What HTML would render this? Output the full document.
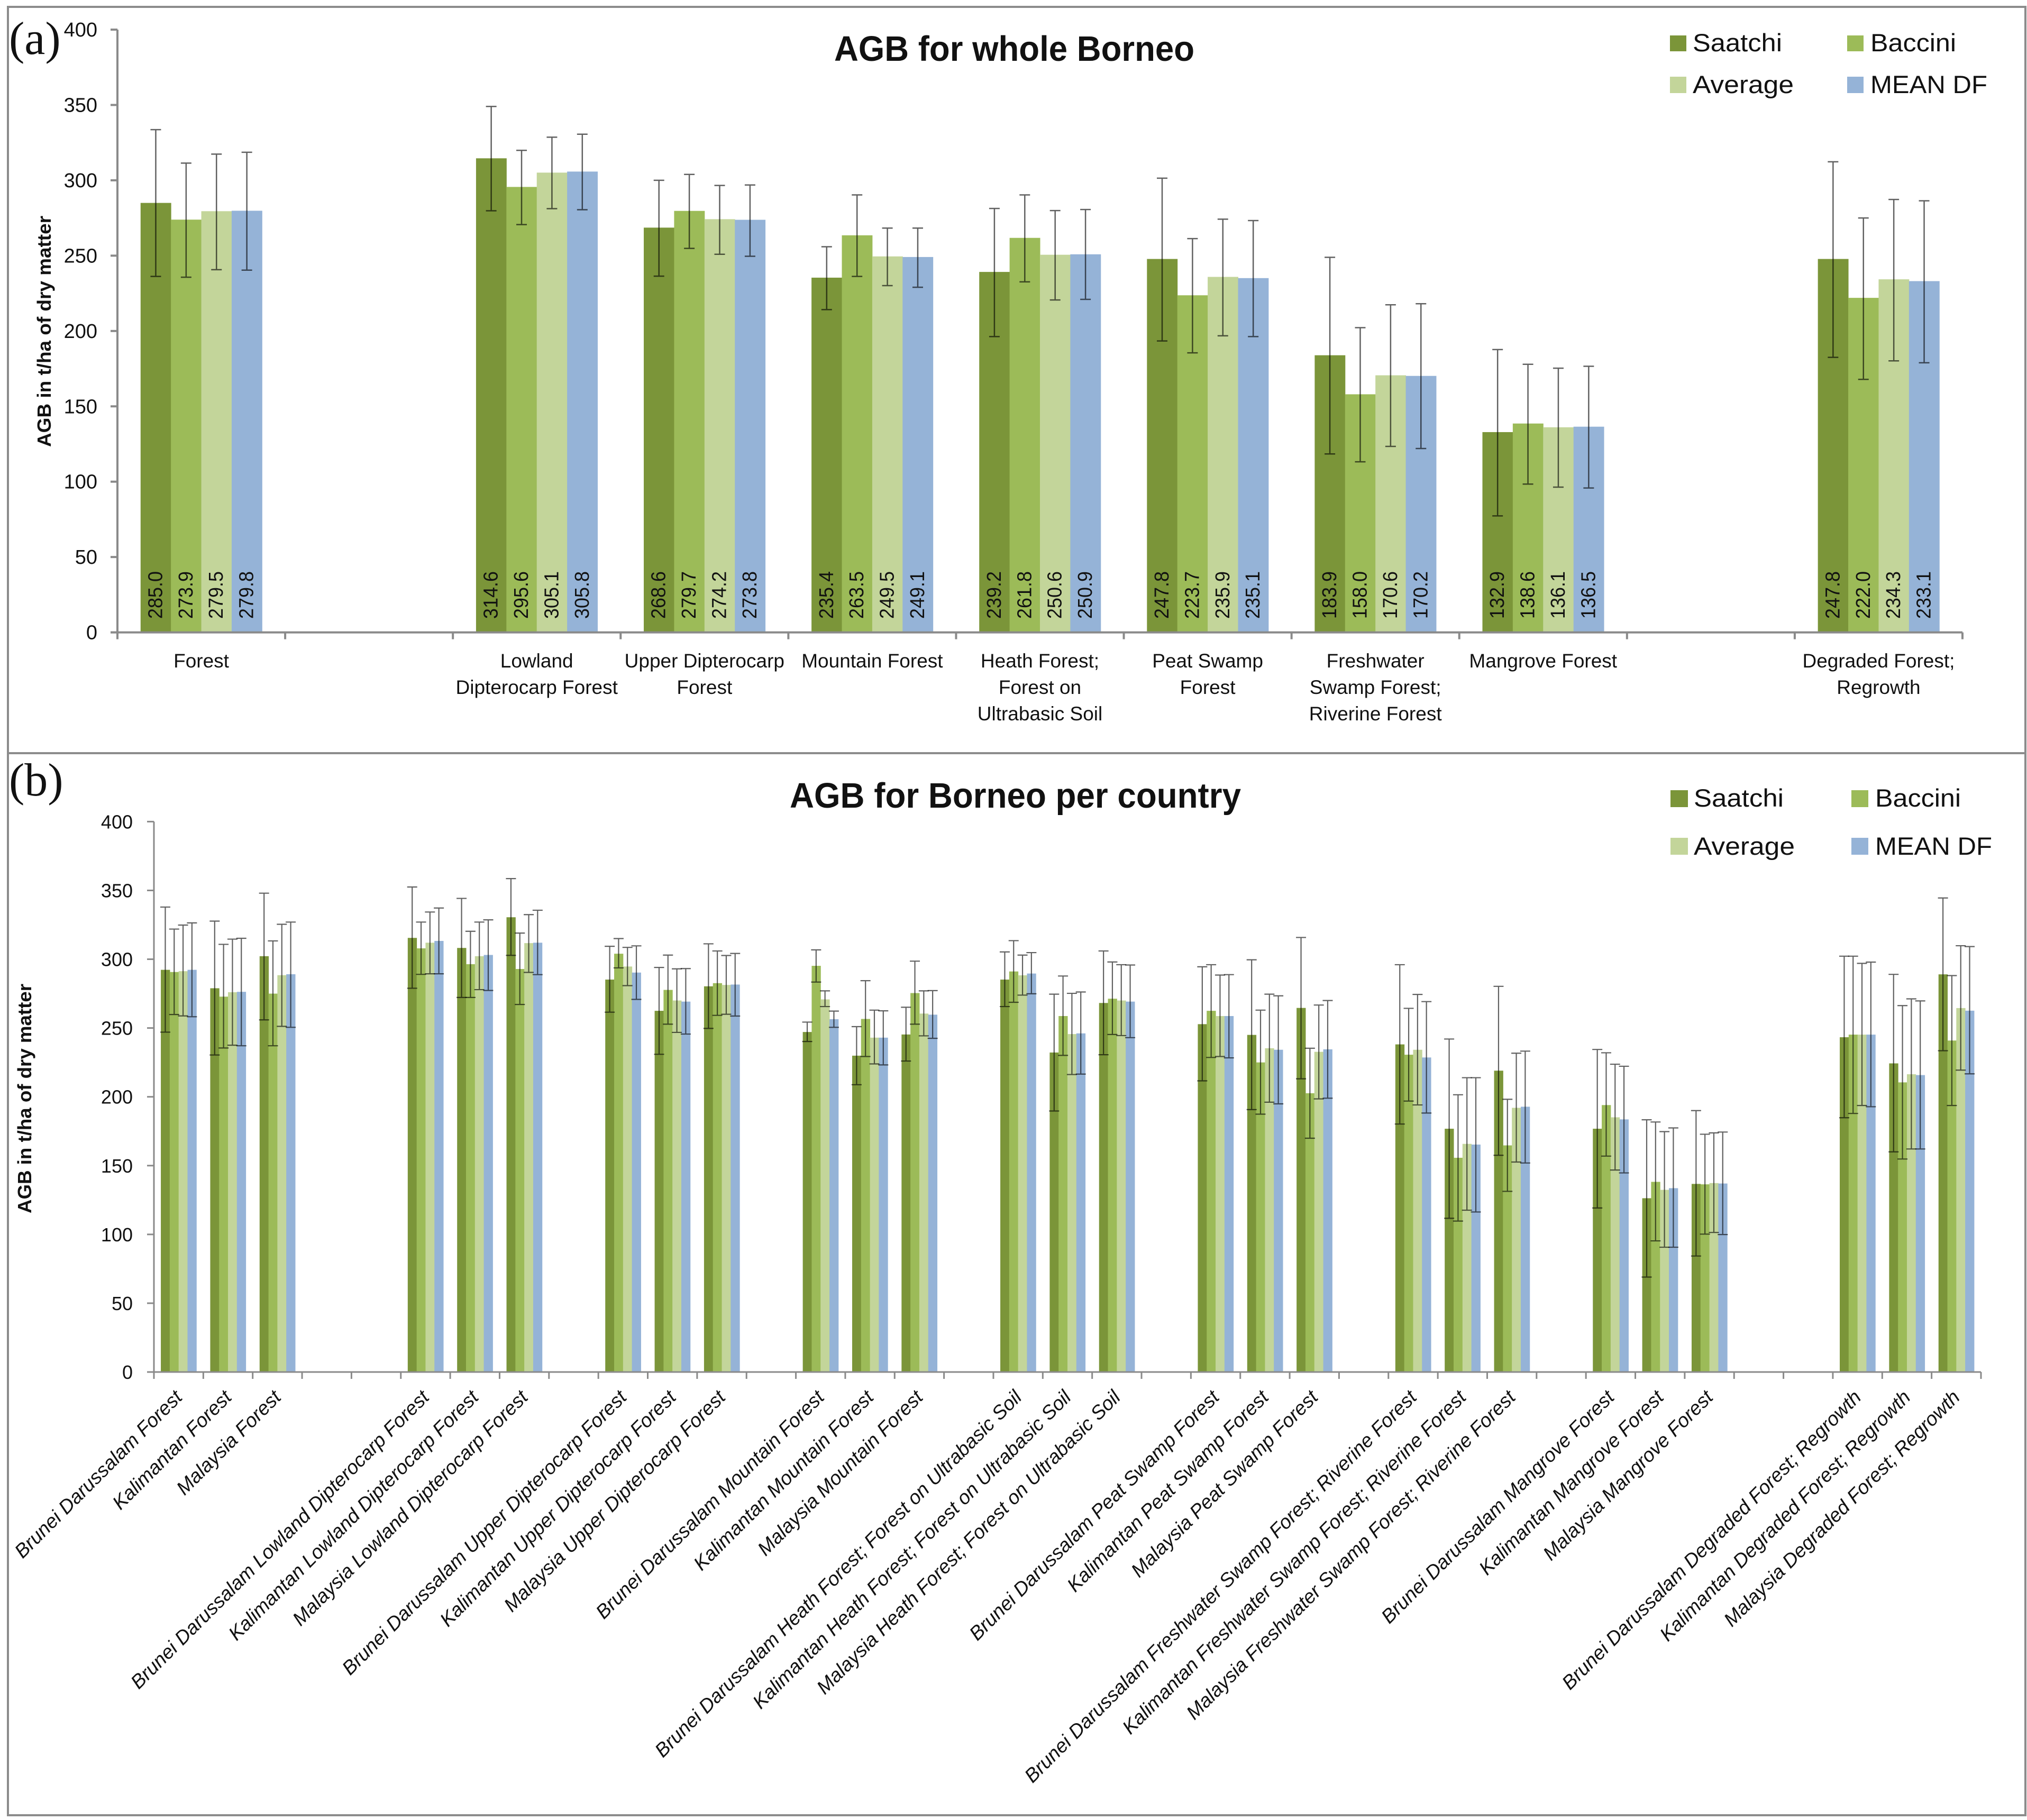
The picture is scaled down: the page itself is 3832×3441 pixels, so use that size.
<!DOCTYPE html>
<html lang="en">
<head>
<meta charset="utf-8">
<title>AGB for Borneo</title>
<style>
html,body{margin:0;padding:0;background:#fff;}
svg{display:block;}
text{font-family:"Liberation Sans",sans-serif;fill:#111;}
.serif{font-family:"Liberation Serif",serif;}
</style>
</head>
<body>
<svg id="root" xmlns="http://www.w3.org/2000/svg" width="3832" height="3441" viewBox="0 0 3832 3441">
  <rect x="0" y="0" width="3832" height="3441" fill="#fff"/>
  <rect x="15" y="13" width="3814" height="1411" fill="none" stroke="#8c8c8c" stroke-width="4"/>
  <rect x="15" y="1424" width="3814" height="2008" fill="none" stroke="#8c8c8c" stroke-width="4"/>

  <text class="serif" x="17" y="102" font-size="88">(a)</text>
  <text class="serif" x="17" y="1504" font-size="88">(b)</text>

  <text x="1577" y="115" font-size="67" font-weight="700" textLength="681" lengthAdjust="spacingAndGlyphs">AGB for whole Borneo</text>
  <text x="1493" y="1527" font-size="67" font-weight="700" textLength="853" lengthAdjust="spacingAndGlyphs">AGB for Borneo per country</text>

  <text transform="translate(96,845) rotate(-90)" font-size="36" font-weight="700" textLength="437" lengthAdjust="spacingAndGlyphs">AGB in t/ha of dry matter</text>
  <text transform="translate(59,2294) rotate(-90)" font-size="36" font-weight="700" textLength="434" lengthAdjust="spacingAndGlyphs">AGB in t/ha of dry matter</text>

  <g>
    <rect x="3157" y="67" width="31" height="30" fill="#7b9539"/>
    <text x="3200" y="97" font-size="47" textLength="169" lengthAdjust="spacingAndGlyphs">Saatchi</text>
    <rect x="3492" y="67" width="31" height="30" fill="#9cbb58"/>
    <text x="3536" y="97" font-size="47" textLength="162" lengthAdjust="spacingAndGlyphs">Baccini</text>
    <rect x="3157" y="145" width="31" height="31" fill="#c3d59a"/>
    <text x="3200" y="176" font-size="47" textLength="191" lengthAdjust="spacingAndGlyphs">Average</text>
    <rect x="3492" y="145" width="31" height="31" fill="#95b3d7"/>
    <text x="3536" y="176" font-size="47" textLength="221" lengthAdjust="spacingAndGlyphs">MEAN DF</text>
  </g>
  <g>
    <rect x="3158" y="1494" width="33" height="32" fill="#7b9539"/>
    <text x="3202" y="1525" font-size="47" textLength="170" lengthAdjust="spacingAndGlyphs">Saatchi</text>
    <rect x="3500" y="1494" width="32" height="32" fill="#9cbb58"/>
    <text x="3545" y="1525" font-size="47" textLength="162" lengthAdjust="spacingAndGlyphs">Baccini</text>
    <rect x="3158" y="1584" width="33" height="32" fill="#c3d59a"/>
    <text x="3202" y="1616" font-size="47" textLength="191" lengthAdjust="spacingAndGlyphs">Average</text>
    <rect x="3500" y="1584" width="32" height="32" fill="#95b3d7"/>
    <text x="3545" y="1616" font-size="47" textLength="221" lengthAdjust="spacingAndGlyphs">MEAN DF</text>
  </g>

  <g id="chart-a"></g>
  <g id="chart-b"></g>
</svg>

<script>
// Shared y ticks
const yTicks = [0, 50, 100, 150, 200, 250, 300, 350, 400];

// ---------- Chart A data ----------
const aCategories = ["Forest", null, "Lowland|Dipterocarp Forest", "Upper Dipterocarp|Forest", "Mountain Forest", "Heath Forest;|Forest on|Ultrabasic Soil", "Peat Swamp|Forest", "Freshwater|Swamp Forest;|Riverine Forest", "Mangrove Forest", null, "Degraded Forest;|Regrowth"];
const aSaatchi = [285.0, 314.6, 268.6, 235.4, 239.2, 247.8, 183.9, 132.9, 247.8];
const aBaccini = [273.9, 295.6, 279.7, 263.5, 261.8, 223.7, 158.0, 138.6, 222.0];
const aAverage = [279.5, 305.1, 274.2, 249.5, 250.6, 235.9, 170.6, 136.1, 234.3];
const aMeanDF = [279.8, 305.8, 273.8, 249.1, 250.9, 235.1, 170.2, 136.5, 233.1];
const aSaatchiUpper = [333.6, 349, 300, 255.9, 281.3, 301.4, 248.9, 187.7, 312.3];
const aBacciniUpper = [311.4, 319.9, 303.9, 290.3, 290.3, 261.3, 202.2, 177.9, 275];
const aAverageUpper = [317.4, 328.6, 296.6, 268.3, 279.9, 274.2, 217.4, 175.3, 287.3];
const aMeanDFUpper = [318.6, 330.6, 296.9, 268.3, 280.6, 273.3, 218.1, 176.6, 286.4];
const aSaatchiLower = [236.2, 279.8, 236.4, 214.2, 196.3, 193.4, 118.4, 77.3, 182.5];
const aBacciniLower = [235.7, 270.6, 254.8, 236.2, 232.6, 185.5, 113.2, 98.4, 167.9];
const aAverageLower = [240.7, 281.2, 250.9, 230.1, 220.6, 196.8, 123.4, 96.4, 180.2];
const aMeanDFLower = [240.4, 280.5, 249.6, 229, 221, 196.3, 122, 95.8, 178.9];

// ---------- Chart B data ----------
const bCategories = [
  "Brunei Darussalam Forest", "Kalimantan Forest", "Malaysia Forest", null, null,
  "Brunei Darussalam Lowland Dipterocarp Forest", "Kalimantan Lowland Dipterocarp Forest", "Malaysia Lowland Dipterocarp Forest", null,
  "Brunei Darussalam Upper Dipterocarp Forest", "Kalimantan Upper Dipterocarp Forest", "Malaysia Upper Dipterocarp Forest", null,
  "Brunei Darussalam Mountain Forest", "Kalimantan Mountain Forest", "Malaysia Mountain Forest", null,
  "Brunei Darussalam Heath Forest; Forest on Ultrabasic Soil", "Kalimantan Heath Forest; Forest on Ultrabasic Soil", "Malaysia Heath Forest; Forest on Ultrabasic Soil", null,
  "Brunei Darussalam Peat Swamp Forest", "Kalimantan Peat Swamp Forest", "Malaysia Peat Swamp Forest", null,
  "Brunei Darussalam Freshwater Swamp Forest; Riverine Forest", "Kalimantan Freshwater Swamp Forest; Riverine Forest", "Malaysia Freshwater Swamp Forest; Riverine Forest", null,
  "Brunei Darussalam Mangrove Forest", "Kalimantan Mangrove Forest", "Malaysia Mangrove Forest", null, null,
  "Brunei Darussalam Degraded Forest; Regrowth", "Kalimantan Degraded Forest; Regrowth", "Malaysia Degraded Forest; Regrowth"
];
const bSaatchi = [292.3,278.9,302.2,315.5,308.2,330.5,285.2,262.5,280.3,247.1,229.9,245.3,285.2,232.2,268.2,252.8,245,264.6,238.1,176.8,219,176.8,126.3,136.7,243.3,224.3,289];
const bBaccini = [290.7,272.8,275,307.9,296.4,292.9,304,277.7,282.6,295.2,256.6,275.4,291.1,258.7,271.3,262.5,225,202.6,230.6,155.7,164.7,194,138.2,136.4,245.2,210.5,240.9];
const bAverage = [291.3,276,288.4,312,302.2,311.7,294.7,270,281.3,270.8,243,260.5,288.3,245.6,270,258.7,235.3,232.7,234.2,165.8,192,185.1,132.4,137.3,245.2,216.4,264.5];
const bMeanDF = [292.3,276.3,289.1,313.3,303.1,312,290.3,269.2,281.6,256.4,243,259.7,289.6,246.1,269.2,258.7,234.2,234.5,228.6,165.3,192.8,183.6,133.6,137,245.2,215.8,262.6];
const bSaatchiUpper = [337.9,327.7,348,352.5,344.2,358.6,309.4,294,311.2,254.3,251,265.1,305.3,274.6,306,294.5,299.6,315.8,296,242,280.3,234.4,183.3,190,302.2,289,344.5];
const bBacciniUpper = [321.9,310.8,313.3,327,320.3,319,315,303,306,306.8,284.4,298.6,313.5,287.8,298,296,263,235.3,264.3,201.5,198.2,232,181.7,172.8,302.2,266.3,288.1];
const bAverageUpper = [324.8,314.6,325.4,334.3,327,332.4,308.6,293,302.7,277,263,277,303,275.2,296,288.5,274.6,266.7,274.4,213.9,231.7,223.7,174.7,173.8,297,271.2,309.8];
const bMeanDFUpper = [326.4,315.2,327,337.2,328.6,335.6,309.7,293.2,304.2,262.3,262.5,277.2,304.8,276.2,295.8,288.8,273.4,270,269.2,213.9,233.2,222.2,177.4,174.4,297.9,269.7,309.2];
const bSaatchiLower = [247,230.4,255.9,278.9,272.2,302.8,261.5,230.9,249.7,240.2,208.8,226,265.6,189.7,230.6,211.6,190.7,213.1,180.2,111.7,157.5,119.2,69,84.3,184.8,160,233.5];
const bBacciniLower = [259.8,235.5,237.1,289,272.2,267.1,293.7,252.8,259.2,283.4,229.3,252.8,268.7,230.1,245.3,228.6,187.4,169.9,196.9,109.7,131.3,156.9,95.3,100.2,187.9,154.8,193.7];
const bAverageLower = [258.8,237.5,251.2,289.4,277.9,290.4,280.8,246.8,260,265.6,223.9,244.3,273.9,216.2,244.5,229.3,196.1,198.5,194.1,117.6,152.6,146.8,90.7,101.4,193.7,162.1,219.4];
const bMeanDFLower = [258.2,237.1,250.5,289.4,277.3,288.8,270.8,245.6,258.7,250.5,223.2,242.5,274.9,216.5,243,228.3,194.9,199,188.2,116.3,151.9,144.7,90.7,99.9,192.8,162.1,216.7];

const SVGNS = "http://www.w3.org/2000/svg";
const seriesColors = ["#7b9539", "#9cbb58", "#c3d59a", "#95b3d7"];

function make(tag, parent, attrs, text) {
  const node = document.createElementNS(SVGNS, tag);
  for (const k in attrs) node.setAttribute(k, attrs[k]);
  if (text !== undefined) node.textContent = text;
  parent.appendChild(node);
  return node;
}

function drawChart(cfg) {
  const g = document.getElementById(cfg.id);
  const n = cfg.categories.length;
  const slot = (cfg.xRight - cfg.xLeft) / n;
  const barW = slot * cfg.barFrac;
  const xScale = i => cfg.xLeft + slot * i;
  const yScale = v => cfg.yZero - (v / 400) * (cfg.yZero - cfg.yTop);

  // Bars, then error bars, walking category slots
  const placed = [];
  cfg.categories.forEach((c, i) => { if (c !== null) placed.push(i); });
  placed.forEach((slotIndex, k) => {
    const groupLeft = xScale(slotIndex) + (slot - barW * 4) / 2;
    cfg.values.forEach((arr, s) => {
      const bar = make("rect", g, {
        x: groupLeft + barW * s,
        y: yScale(arr[k]),
        width: barW + 0.5,
        height: cfg.yZero - yScale(arr[k]),
        fill: seriesColors[s]
      });
      
      
    });
    cfg.values.forEach((arr, s) => {
      const cx = groupLeft + barW * (s + 0.5);
      const yU = yScale(cfg.upper[s][k]);
      const yL = yScale(cfg.lower[s][k]);
      const err = make("path", g, {
        d: "M" + cx + " " + yU + "V" + yL +
           "M" + (cx - cfg.cap) + " " + yU + "H" + (cx + cfg.cap) +
           "M" + (cx - cfg.cap) + " " + yL + "H" + (cx + cfg.cap),
        fill: "none",
        stroke: "#000",
        "stroke-opacity": "0.62",
        "stroke-width": cfg.errW
      });
      
      
      if (cfg.showValues) {
        const cy = cfg.valueBase;
        const lab = make("text", g, {
          transform: "translate(" + (cx + 12) + "," + cy + ") rotate(-90)",
          "font-size": "38",
          textLength: "90",
          lengthAdjust: "spacingAndGlyphs"
        }, arr[k].toFixed(1));
        
        
      }
    });
  });

  // Y axis
  const yAxis = make("line", g, { x1: cfg.xLeft, x2: cfg.xLeft, y1: cfg.yTop, y2: cfg.yZero, stroke: "#8a8a8a", "stroke-width": cfg.axisW });
  
  
  yTicks.forEach(t => {
    const tick = make("line", g, { x1: cfg.xLeft - 13, x2: cfg.xLeft, y1: yScale(t), y2: yScale(t), stroke: "#8a8a8a", "stroke-width": cfg.axisW });
    
    
    const label = make("text", g, {
      x: cfg.yLabelRight,
      y: yScale(t) + 13,
      "text-anchor": "end",
      "font-size": cfg.yLabelSize
    }, String(t));
    
    
  });

  // X axis
  const xAxis = make("line", g, { x1: cfg.xLeft - 13, x2: cfg.xRight, y1: cfg.yZero, y2: cfg.yZero, stroke: "#8a8a8a", "stroke-width": cfg.axisW });
  
  
  for (let i = 0; i <= n; i++) {
    const tick = make("line", g, { x1: xScale(i), x2: xScale(i), y1: cfg.yZero, y2: cfg.yZero + 13, stroke: "#8a8a8a", "stroke-width": cfg.axisW });
    
    
  }

  // Category labels
  cfg.categories.forEach((c, i) => {
    if (c === null) return;
    const center = xScale(i) + slot / 2;
    if (cfg.rotateLabels) {
      const label = make("text", g, {
        transform: "translate(" + (center + 9) + ",2644) rotate(-45)",
        "text-anchor": "end",
        "font-size": "37",
        "font-style": "italic"
      }, c);
      
      
    } else {
      c.split("|").forEach((line, li) => {
        const label = make("text", g, {
          x: center,
          y: 1262 + li * 50,
          "text-anchor": "middle",
          "font-size": "37"
        }, line);
        
        
      });
    }
  });
}

drawChart({
  id: "chart-a",
  categories: aCategories,
  values: [aSaatchi, aBaccini, aAverage, aMeanDF],
  upper: [aSaatchiUpper, aBacciniUpper, aAverageUpper, aMeanDFUpper],
  lower: [aSaatchiLower, aBacciniLower, aAverageLower, aMeanDFLower],
  xLeft: 222, xRight: 3710, yZero: 1195.6, yTop: 56,
  barFrac: 0.181, cap: 10, errW: 2.5, axisW: 4,
  yLabelRight: 184, yLabelSize: 38,
  showValues: true, valueBase: 1170, rotateLabels: false
});

drawChart({
  id: "chart-b",
  categories: bCategories,
  values: [bSaatchi, bBaccini, bAverage, bMeanDF],
  upper: [bSaatchiUpper, bBacciniUpper, bAverageUpper, bMeanDFUpper],
  lower: [bSaatchiLower, bBacciniLower, bAverageLower, bMeanDFLower],
  xLeft: 291, xRight: 3745, yZero: 2594, yTop: 1553.4,
  barFrac: 0.18, cap: 9.5, errW: 2.2, axisW: 3,
  yLabelRight: 251, yLabelSize: 36,
  showValues: false, rotateLabels: true
});
</script>
</body>
</html>
